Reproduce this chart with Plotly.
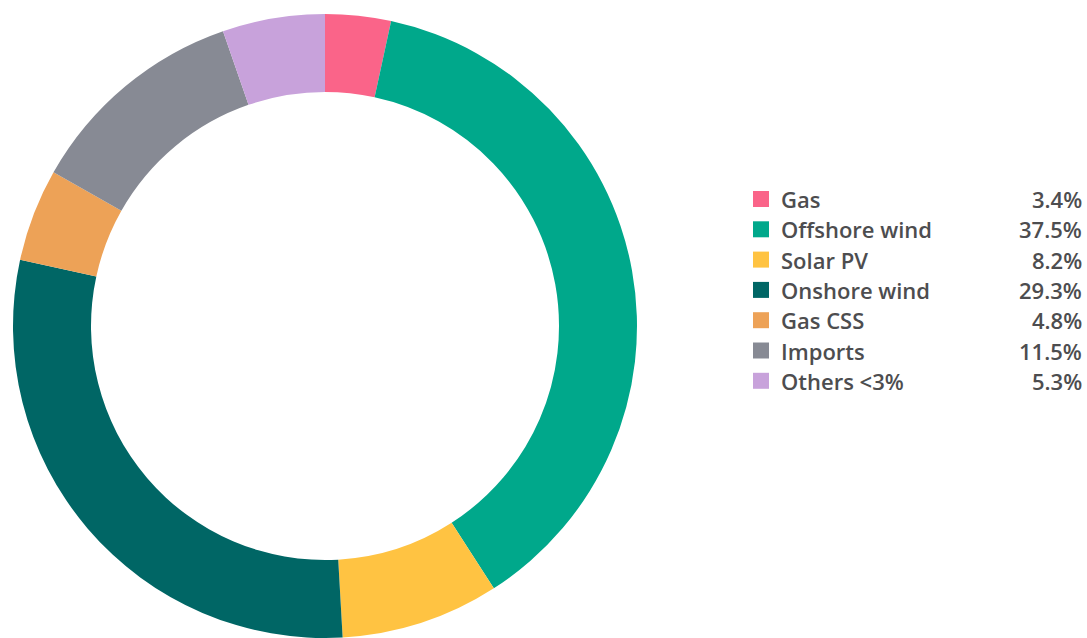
import plotly.graph_objects as go

labels = ["Gas", "Offshore wind", "Solar PV", "Onshore wind", "Gas CSS", "Imports", "Others <3%"]
values = [3.4, 37.5, 8.2, 29.3, 4.8, 11.5, 5.3]
colors = ["#FA6489", "#00A88B", "#FFC342", "#006665", "#EDA257", "#878A94", "#C8A2DB"]

W, H = 1087, 638
TOP = 14
FONT = "Open Sans"
TXT = "#4D4D4F"


def py(px):
    # pixel row -> paper y (paper spans the area inside the margins)
    return (H - px) / (H - TOP)


fig = go.Figure()
fig.add_trace(go.Pie(
    labels=labels,
    values=values,
    marker=dict(colors=colors, line=dict(width=0)),
    hole=0.75,
    sort=False,
    direction="clockwise",
    rotation=0,
    textinfo="none",
    hoverinfo="label+value",
    showlegend=False,
    domain=dict(x=[0, 650 / W], y=[0, 1]),
))

# legend drawn by hand: square, label, right-aligned value
leg_top = 199
step = 30.3
for i, (lab, v, c) in enumerate(zip(labels, values, colors)):
    yc = leg_top + i * step
    fig.add_shape(
        type="rect", xref="paper", yref="paper",
        x0=753 / W, x1=769 / W,
        y0=py(yc - 8), y1=py(yc + 8),
        fillcolor=c, line_width=0,
    )
    fig.add_annotation(
        x=779 / W, y=py(yc),
        xref="paper", yref="paper",
        text=lab, showarrow=False,
        xanchor="left", yanchor="middle",
        font=dict(family=FONT, size=22, color=TXT, weight=600),
    )
    fig.add_annotation(
        x=1084 / W, y=py(yc),
        xref="paper", yref="paper",
        text=f"{v:.1f}%", showarrow=False,
        xanchor="right", yanchor="middle",
        font=dict(family=FONT, size=22, color=TXT, weight=600),
    )

fig.update_layout(
    width=W, height=H,
    margin=dict(l=0, r=0, t=TOP, b=0),
    paper_bgcolor="white",
    plot_bgcolor="white",
    showlegend=False,
)

fig.write_html("out.html", config={"displayModeBar": False},
               post_script="document.body.style.margin='0';")
